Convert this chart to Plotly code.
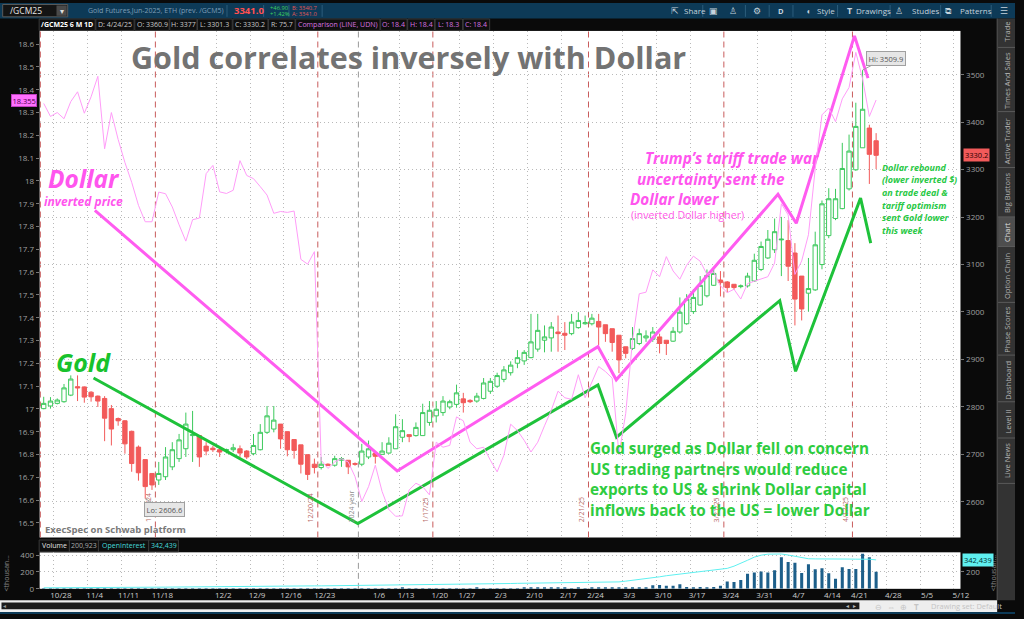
import plotly.graph_objects as go
import pandas as pd

W, H = 1024, 619
def X(px): return px / W
def Y(py): return 1 - py / H

FONT = "Open Sans"

# ---------------- data ----------------
holidays = ["2024-11-28", "2024-12-25", "2025-01-01", "2025-01-09",
            "2025-01-20", "2025-02-17", "2025-04-18"]
dates = [d.strftime("%Y-%m-%d") for d in pd.bdate_range("2024-10-24", "2025-04-24")
         if d.strftime("%Y-%m-%d") not in holidays]

opens = [2796.3, 2801.9, 2807.4, 2810.9, 2824.8, 2842.6, 2842.1, 2831.0, 2822.7, 2817.8,
         2796.3, 2775.5, 2770.7, 2748.5, 2715.2, 2688.9, 2659.7, 2645.9, 2652.8, 2673.6,
         2690.9, 2711.8, 2739.5, 2739.5, 2717.3, 2713.0, 2709.7, 2708.3, 2709.7, 2711.7,
         2706.9, 2701.3, 2709.7, 2746.4, 2753.3, 2763.7, 2747.8, 2731.2, 2720.0, 2699.3,
         2679.2, 2672.2, 2679.2, 2677.1, 2687.5, 2687.5, 2680.5, 2679.2, 2694.4, 2702.7,
         2700.0, 2702.7, 2711.7, 2736.0, 2741.5, 2739.5, 2739.5, 2767.2, 2781.1, 2788.0,
         2799.8, 2805.3, 2816.9, 2813.7, 2812.3, 2817.8, 2833.0, 2843.5, 2858.0, 2872.0,
         2892.0, 2896.9, 2903.8, 2921.8, 2940.5, 2945.4, 2957.8, 2955.1, 2954.4, 2967.0,
         2975.2, 2975.2, 2980.1, 2973.1, 2964.8, 2951.0, 2926.7, 2923.2, 2933.6, 2945.4,
         2942.6, 2947.5, 2940.5, 2938.5, 2957.9, 2975.2, 3000.9, 3014.7, 3034.1, 3056.3,
         3067.4, 3063.3, 3058.4, 3053.5, 3055.0, 3065.3, 3089.6, 3113.9, 3131.2, 3152.0,
         3150.6, 3124.3, 3075.7, 3039.7, 3046.6, 3100.0, 3161.0, 3197.1, 3217.9, 3259.5,
         3299.7, 3346.1, 3387.7, 3360.9]
highs = [2821.3, 2820.6, 2817.8, 2848.3, 2866.4, 2866.4, 2843.0, 2833.0, 2824.0, 2822.7,
         2804.0, 2777.6, 2772.0, 2749.9, 2718.7, 2688.9, 2659.7, 2684.0, 2715.2, 2725.6,
         2743.0, 2788.0, 2791.5, 2739.5, 2725.6, 2718.0, 2713.8, 2712.0, 2722.1, 2718.7,
         2709.0, 2742.9, 2763.7, 2801.9, 2801.9, 2763.7, 2747.8, 2731.2, 2720.0, 2699.3,
         2690.9, 2694.4, 2681.0, 2697.0, 2694.4, 2687.5, 2683.0, 2722.1, 2729.0, 2702.7,
         2725.6, 2736.0, 2784.5, 2774.1, 2741.5, 2767.2, 2806.7, 2812.3, 2812.3, 2822.7,
         2815.0, 2846.9, 2829.6, 2816.0, 2829.6, 2860.8, 2860.8, 2872.0, 2886.0, 2896.0,
         2919.7, 2919.7, 2996.0, 2996.0, 2971.7, 2978.7, 2992.5, 2978.7, 2996.0, 2999.5,
         2992.5, 2996.0, 2996.0, 2973.1, 2964.8, 2951.0, 2926.7, 2968.3, 2964.8, 2961.3,
         2968.3, 2954.4, 2940.5, 2968.3, 3030.7, 3037.6, 3048.0, 3075.7, 3089.6, 3089.6,
         3086.2, 3065.3, 3058.4, 3058.0, 3082.7, 3122.9, 3148.5, 3172.8, 3197.0, 3200.5,
         3193.6, 3145.1, 3075.7, 3113.9, 3169.3, 3235.0, 3260.9, 3259.5, 3356.5, 3373.9,
         3441.1, 3509.9, 3394.7, 3377.0]
lows = [2795.0, 2796.3, 2805.3, 2808.8, 2822.7, 2812.3, 2808.8, 2811.0, 2799.8, 2727.7,
        2718.7, 2760.3, 2701.4, 2663.2, 2644.5, 2606.6, 2625.0, 2635.5, 2645.9, 2666.7,
        2684.0, 2694.4, 2684.0, 2673.6, 2697.9, 2705.0, 2694.4, 2702.0, 2704.8, 2694.4,
        2690.0, 2697.9, 2708.3, 2742.9, 2746.4, 2711.7, 2695.8, 2690.9, 2659.7, 2645.9,
        2659.7, 2668.0, 2675.0, 2674.0, 2673.6, 2658.4, 2676.0, 2675.0, 2690.0, 2680.5,
        2700.0, 2701.3, 2711.7, 2725.6, 2725.6, 2737.4, 2739.5, 2760.3, 2767.2, 2781.1,
        2795.0, 2798.4, 2788.0, 2808.0, 2808.8, 2815.7, 2827.5, 2840.0, 2852.0, 2866.0,
        2881.6, 2888.5, 2902.4, 2916.3, 2915.0, 2916.3, 2916.3, 2919.8, 2951.0, 2964.8,
        2973.1, 2971.7, 2930.2, 2937.1, 2916.3, 2871.2, 2902.4, 2919.8, 2930.2, 2937.1,
        2937.1, 2912.8, 2909.3, 2937.1, 2954.4, 2973.1, 2996.0, 3013.3, 3030.7, 3055.0,
        3032.8, 3041.1, 3046.6, 3050.0, 3051.5, 3063.3, 3086.2, 3111.8, 3124.3, 3075.7,
        3065.3, 2971.7, 2982.2, 3000.9, 3044.5, 3090.0, 3155.5, 3193.6, 3216.5, 3256.0,
        3297.6, 3346.1, 3269.9, 3301.3]
closes = [2807.4, 2812.3, 2814.4, 2840.0, 2858.7, 2840.0, 2820.6, 2821.3, 2812.3, 2776.2,
          2753.3, 2770.7, 2722.1, 2680.6, 2661.1, 2632.0, 2635.5, 2659.7, 2694.4, 2709.7,
          2730.5, 2763.7, 2741.5, 2694.4, 2706.9, 2709.7, 2704.8, 2709.7, 2713.8, 2702.7,
          2694.4, 2718.7, 2746.4, 2781.1, 2772.1, 2732.5, 2709.7, 2708.3, 2679.2, 2657.7,
          2672.2, 2679.2, 2677.1, 2690.9, 2690.9, 2673.6, 2679.2, 2706.9, 2711.7, 2695.8,
          2706.9, 2723.5, 2758.2, 2749.9, 2737.4, 2756.8, 2788.0, 2792.9, 2795.0, 2812.3,
          2810.9, 2829.6, 2808.8, 2810.9, 2822.7, 2850.4, 2853.9, 2866.0, 2878.0, 2888.0,
          2903.8, 2914.9, 2937.0, 2961.3, 2947.5, 2968.3, 2954.4, 2951.0, 2978.7, 2982.2,
          2977.3, 2987.0, 2968.3, 2954.4, 2935.7, 2899.0, 2912.8, 2944.0, 2954.4, 2949.5,
          2957.8, 2933.6, 2933.6, 2959.3, 2999.5, 3027.2, 3030.7, 3056.3, 3077.1, 3081.3,
          3061.9, 3051.5, 3051.5, 3054.9, 3075.7, 3109.0, 3138.1, 3153.4, 3169.3, 3153.4,
          3096.5, 3027.2, 3006.4, 3049.4, 3141.6, 3228.0, 3238.7, 3238.7, 3302.5, 3339.2,
          3391.2, 3427.3, 3332.3, 3330.2]

# UDN comparison (inverted dollar)
udn = [18.34, 18.283, 18.30, 18.273, 18.348, 18.391, 18.297, 18.369, 18.459, 18.141,
       18.30, 18.182, 18.081, 17.994, 17.893, 17.821, 17.821, 17.951, 17.944, 17.886,
       17.808, 17.736, 17.83, 17.837, 18.032, 18.068, 17.952, 17.945, 17.959, 18.089,
       18.024, 18.01, 17.975, 17.938, 17.858, 17.866, 17.862, 17.868, 17.656, 17.635,
       17.69, 16.775, 16.739, 16.767, 16.782, 16.767, 16.703, 16.594, 16.659, 16.753,
       16.638, 16.559, 16.529, 16.531, 16.645, 16.674, 16.659, 16.623, 16.854, 16.832,
       16.84, 16.965, 16.948, 16.854, 16.825, 16.832, 16.775, 16.724, 16.797, 16.933,
       16.905, 16.862, 16.811, 16.854, 16.926, 16.994, 17.078, 17.049, 17.042, 17.15,
       17.049, 17.12, 17.186, 17.164, 17.135, 16.80, 16.98, 17.30, 17.505, 17.512,
       17.61, 17.58, 17.668, 17.605, 17.569, 17.63, 17.67, 17.648, 17.59, 17.60,
       17.54, 17.51, 17.525, 17.482, 17.55, 17.56, 17.57, 17.58, 17.64, 17.90,
       17.851, 17.59, 17.649, 17.764, 18.053, 18.29, 18.32, 18.26, 18.36, 18.41,
       18.564, 18.448, 18.283, 18.355]

volume = [2, 2, 3, 2, 3, 4, 3, 2, 3, 5,
          4, 3, 4, 5, 5, 6, 4, 3, 4, 3,
          3, 4, 3, 3, 2, 2, 3, 3, 2, 3,
          3, 4, 4, 5, 4, 4, 4, 3, 5, 4,
          4, 3, 2, 2, 2, 3, 3, 4, 4, 4,
          4, 5, 5, 10, 5, 4, 5, 5, 4, 4,
          4, 5, 5, 5, 10, 6, 6, 5, 5, 6,
          6, 7, 9, 15, 8, 7, 8, 7, 6, 7,
          6, 8, 9, 8, 9, 10, 10, 10, 12, 15,
          42, 46, 35, 35, 54, 23, 15, 23, 15, 23,
          35, 88, 81, 104, 177, 192, 204, 192, 219, 373,
          316, 308, 188, 292, 231, 242, 185, 119, 254, 235,
          235, 415, 373, 201]
open_interest = [12, 12, 13, 13, 13, 14, 14, 14, 15, 15,
                 16, 16, 17, 18, 18, 19, 19, 20, 20, 21,
                 22, 22, 23, 24, 24, 25, 25, 26, 27, 27,
                 28, 28, 29, 30, 30, 31, 32, 32, 33, 34,
                 35, 35, 36, 36, 37, 37, 38, 38, 39, 39,
                 40, 40, 41, 41, 42, 42, 43, 43, 44, 45,
                 46, 47, 49, 51, 53, 55, 57, 59, 61, 63,
                 65, 66, 67, 67, 68, 68, 69, 69, 70, 70,
                 71, 72, 73, 75, 78, 82, 91, 100, 110, 120,
                 129, 142, 155, 165, 175, 186, 194, 203, 212, 222,
                 232, 242, 268, 300, 338, 375, 398, 410, 413, 412,
                 400, 383, 366, 356, 354, 352, 353, 355, 354, 352,
                 351, 353, 350, 342.439]

# hand-drawn trend lines (time, price)
dollar_draw_t = ["2024-11-04 13:26", "2025-01-10 05:31", "2025-02-24 21:36", "2025-02-27 14:24",
                 "2025-04-02 12:00", "2025-04-07 04:48", "2025-04-17 19:12", "2025-04-22 19:12"]
dollar_draw_p = [3214, 2665, 2927, 2857, 3248, 3187, 3582, 3493]
gold_draw_t = ["2024-11-04 08:38", "2024-12-31 10:05", "2025-02-24 21:36", "2025-02-27 15:22",
               "2025-04-02 18:14", "2025-04-07 02:24", "2025-04-21 16:48", "2025-04-23 04:48"]
gold_draw_p = [2861, 2554, 2846, 2736, 3024, 2875, 3240, 3145]

expirations = ["2024-11-15", "2024-12-20", "2025-01-17", "2025-02-21", "2025-03-21", "2025-04-17"]
expiration_labels = ["11/15/24", "12/20/24", "1/17/25", "2/21/25", "3/21/25", "4/17/25"]

week_starts = ["2024-10-28", "2024-11-04", "2024-11-11", "2024-11-18", "2024-12-02", "2024-12-09",
               "2024-12-16", "2024-12-23", "2025-01-06", "2025-01-13", "2025-01-20", "2025-01-27",
               "2025-02-03", "2025-02-10", "2025-02-17", "2025-02-24", "2025-03-03", "2025-03-10",
               "2025-03-17", "2025-03-24", "2025-03-31", "2025-04-07", "2025-04-14", "2025-04-21",
               "2025-04-28", "2025-05-05", "2025-05-12"]
week_labels = ["10/28", "11/4", "11/11", "11/18", "12/2", "12/9", "12/16", "12/23", "1/6", "1/13",
               "1/20", "1/27", "2/3", "2/10", "2/17", "2/24", "3/3", "3/10", "3/17", "3/24",
               "3/31", "4/7", "4/14", "4/21", "4/28", "5/5", "5/12"]

gold_ticks = [2600, 2700, 2800, 2900, 3000, 3100, 3200, 3300, 3400, 3500]
udn_ticks = [16.5, 16.6, 16.7, 16.8, 16.9, 17.0, 17.1, 17.2, 17.3, 17.4, 17.5,
             17.6, 17.7, 17.8, 17.9, 18.0, 18.1, 18.2, 18.3, 18.4, 18.5, 18.6]
udn_ticktext = ["16.5", "16.6", "16.7", "16.8", "16.9", "17", "17.1", "17.2", "17.3", "17.4", "17.5",
                "17.6", "17.7", "17.8", "17.9", "18", "18.1", "18.2", "18.3", "18.4", "18.5", "18.6"]

# ---------------- helpers ----------------
hol = set(holidays)
def boundary_before(day):
    d = pd.Timestamp(day) - pd.Timedelta(days=1)
    while d.weekday() >= 5 or d.strftime("%Y-%m-%d") in hol:
        d -= pd.Timedelta(days=1)
    return (d + pd.Timedelta(hours=12)).strftime("%Y-%m-%d %H:%M")

def half_after(day):
    return (pd.Timestamp(day) + pd.Timedelta(hours=12)).strftime("%Y-%m-%d %H:%M")

week_bounds = [boundary_before(w) for w in week_starts]
exp_bounds = [half_after(e) for e in expirations]
year_bound = half_after("2024-12-31")
grid_vol = [b for b, l in zip(week_bounds, week_labels) if l != "1/6"]
grid_main = [b for b in grid_vol if b not in exp_bounds]

X_RANGE = ["2024-10-23 09:36", "2025-05-12 11:10"]
BREAKS = [dict(bounds=["sat", "mon"]), dict(values=holidays)]
GRID = "#b9b9b9"
GDASH = "1px,3px"
PINK = "#ff5cf0"
GREEN = "#1ec23a"

# ---------------- traces ----------------
fig = go.Figure()
fig.add_trace(go.Candlestick(
    x=dates, open=opens, high=highs, low=lows, close=closes, xaxis="x", yaxis="y",
    increasing=dict(line=dict(color="#3cc95c", width=1), fillcolor="#ffffff"),
    decreasing=dict(line=dict(color="#f25a5a", width=1), fillcolor="#f25a5a"),
    whiskerwidth=0, hoverinfo="skip"))
fig.add_trace(go.Scatter(x=gold_draw_t, y=gold_draw_p, mode="lines", xaxis="x", yaxis="y",
                         line=dict(color=GREEN, width=3), hoverinfo="skip"))
fig.add_trace(go.Scatter(x=dollar_draw_t, y=dollar_draw_p, mode="lines", xaxis="x", yaxis="y",
                         line=dict(color=PINK, width=3), hoverinfo="skip"))
fig.add_trace(go.Scatter(x=dates, y=udn, mode="lines", xaxis="x", yaxis="y2",
                         line=dict(color="#ff9cf8", width=1), hoverinfo="skip"))
fig.add_trace(go.Bar(x=dates, y=volume, xaxis="x2", yaxis="y3",
                     marker=dict(color="#1d5f8a", line=dict(width=0)), hoverinfo="skip"))
fig.add_trace(go.Scatter(x=dates, y=open_interest, mode="lines", xaxis="x2", yaxis="y4",
                         line=dict(color="#5ef0f0", width=1), hoverinfo="skip"))

# ---------------- shapes ----------------
shapes = []
def rect(x0, y0, x1, y1, fill, line=None, layer="below"):
    shapes.append(dict(type="rect", xref="paper", yref="paper", x0=X(x0), x1=X(x1), y0=Y(y1), y1=Y(y0),
                       fillcolor=fill, line=dict(width=1 if line else 0, color=line or fill), layer=layer))
def pline(x0, y0, x1, y1, color, width=1):
    shapes.append(dict(type="line", xref="paper", yref="paper", x0=X(x0), x1=X(x1), y0=Y(y0), y1=Y(y1),
                       line=dict(color=color, width=width), layer="above"))

# top toolbar
rect(0, 0, 1024, 15.7, "#0d3a57")
rect(2.7, 1.5, 68.3, 14, "#141414", "#5a5a5a")
rect(57, 2.5, 67.3, 13, "#4a4a4a")
for sx in [229, 266, 291.5, 325, 709, 752, 776, 800, 845, 898, 949, 1000]:
    pline(sx, 2, sx, 14, "#2c5d7c")
# right tab panel
rect(1006, 15.7, 1024, 605, "#333333")
rect(1007, 216.7, 1024, 246.7, "#4e4e4e")
pline(1006, 15.7, 1006, 605, "#555555")
for sy in [45, 110, 166.7, 216.7, 246.7, 303.3, 356.7, 404, 440.7, 486.7]:
    pline(1007, sy, 1024, sy, "#5a5a5a")
# bottom scroll row
rect(0, 605, 1006, 617, "#eeeeee")
rect(1.5, 607.3, 867, 614.3, "#1c1c1c")
rect(0, 617, 1024, 619, "#0d3a57")

# info bar / volume header boxes
segs = [(39.5, 96, "<b>/GCM25 6 M 1D</b>", "#ffffff"), (96.7, 135.3, "D: 4/24/25", "#c8c8c8"),
        (136, 170.7, "O: 3360.9", "#c8c8c8"), (171.3, 198.7, "H: 3377", "#c8c8c8"),
        (199.3, 234.3, "L: 3301.3", "#c8c8c8"), (235, 270.3, "C: 3330.2", "#c8c8c8"),
        (271, 297.7, "R: 75.7", "#c8c8c8"), (298.3, 383.3, "Comparison (LINE, UDN)", "#d873e0"),
        (384, 410.7, "O: 18.4", "#d873e0"), (411.3, 438.3, "H: 18.4", "#d873e0"),
        (439, 466.7, "L: 18.3", "#d873e0"), (467.3, 494, "C: 18.4", "#d873e0")]
vsegs = [(39.5, 70, "Volume", "#e2e2e2"), (70, 99.3, "200,923", "#a8a8a8"),
         (99.3, 150, "OpenInterest", "#45d9d9"), (150, 180, "342,439", "#45d9d9")]
for x0, x1, t, c in segs:
    rect(x0, 16.2, x1, 27.8, "#0e0e0e", "#3a3a3a")
for x0, x1, t, c in vsegs:
    rect(x0, 544, x1, 556, "#0e0e0e", "#3a3a3a")

# expiration lines, year line
main_y0, main_y1 = Y(541.5), Y(28.3)
vol_y0, vol_y1 = Y(593.5), Y(556.5)
for b in exp_bounds + ["2024-10-23 12:00"]:
    shapes.append(dict(type="line", xref="x", yref="paper", x0=b, x1=b, y0=main_y0, y1=main_y1,
                       line=dict(color="#c85c5c", width=1, dash="6px,4px"), layer="below"))
for (a, c) in [(main_y0, main_y1), (vol_y0, vol_y1)]:
    shapes.append(dict(type="line", xref="x", yref="paper", x0=year_bound, x1=year_bound, y0=a, y1=c,
                       line=dict(color="#9a9a9a", width=1, dash="6px,4px"), layer="below"))

# ---------------- annotations ----------------
ann = []
def T(x, y, text, size=9, color="#cccccc", xanchor="left", yanchor="middle", **kw):
    d = dict(xref="paper", yref="paper", x=X(x), y=Y(y), text=text, showarrow=False,
             xanchor=xanchor, yanchor=yanchor, font=dict(family=FONT, size=size, color=color))
    d.update(kw)
    ann.append(d)

# toolbar texts
T(8.3, 8, "/GCM25", 8.5, "#e6e6e6")
T(62.2, 8, "▾", 8, "#dddddd", xanchor="center")
T(87, 8, "Gold Futures,Jun-2025, ETH (prev. /GCM5)", 7, "#7f9fb8")
T(234, 8, "<b>3341.0</b>", 9.5, "#ff5050")
T(270, 4.6, "+46.90", 5.8, "#3fd060")
T(270, 10.8, "+1.42%", 5.8, "#3fd060")
T(293, 4.6, "B: 3340.7", 5.8, "#e05858")
T(293, 10.8, "A: 3341.0", 5.8, "#e05858")
T(675, 8, "⇱", 9, "#c5d3dd")
T(688, 8, "Share", 8, "#c5d3dd")
T(720, 8, "▣", 9, "#c5d3dd", xanchor="center")
T(740, 8, "♙", 9, "#c5d3dd", xanchor="center")
T(764, 8, "⚙", 9, "#c5d3dd", xanchor="center")
T(788, 8, "<b>D</b>", 7.5, "#c5d3dd", xanchor="center")
T(811, 8, "◖", 8, "#c5d3dd")
T(822, 8, "Style", 8, "#c5d3dd")
T(852, 8, "<b>T</b>", 9, "#c5d3dd")
T(862, 8, "Drawings", 8, "#c5d3dd")
T(907, 8, "♙", 9, "#c5d3dd", xanchor="center")
T(918, 8, "Studies", 8, "#c5d3dd")
T(957, 8, "⧉", 9, "#c5d3dd", xanchor="center")
T(966, 8, "Patterns", 8, "#c5d3dd")
T(1013, 8, "☰", 9, "#c5d3dd", xanchor="center")

for x0, x1, t, c in segs:
    T((x0 + x1) / 2, 22, t, 7, c, xanchor="center", borderpad=0)
for x0, x1, t, c in vsegs:
    T((x0 + x1) / 2, 550, t, 7, c, xanchor="center", borderpad=0)

# right tabs
tabs = [("Trade", 29), ("Times And Sales", 79), ("Active Trader", 140), ("Big Buttons", 192.5),
        ("Chart", 232), ("Option Chain", 276.5), ("Phase Scores", 331), ("Dashboard", 382.5),
        ("Level II", 424), ("Live News", 464)]
for t, yy in tabs:
    T(1016, yy, t, 7.5, "#e0e0e0" if t == "Chart" else "#b4b4b4", xanchor="center", textangle=-90)

# thousands labels
T(7, 578, "&lt;thousan...", 7, "#8a8a8a", xanchor="center", textangle=-90)
T(1002.5, 578, "&lt;thousan...", 7, "#8a8a8a", xanchor="center", textangle=-90)

# bottom row
T(5, 610.8, "◂", 6, "#9a9a9a", xanchor="center")
T(855, 610.8, "◂", 6, "#bbbbbb", xanchor="center")
T(862, 610.8, "▸", 6, "#bbbbbb", xanchor="center")
T(886, 611, "⊖", 8, "#c4c4c4", xanchor="center")
T(899, 611, "⇔", 8, "#c4c4c4", xanchor="center")
T(912, 611, "⊕", 8, "#c4c4c4", xanchor="center")
T(925, 611, "<b>T</b>", 8, "#c4c4c4", xanchor="center")
T(937, 611, "Drawing set: Default", 7.5, "#c4c4c4")

# chart texts
T(412.5, 55, "<b>Gold correlates inversely with Dollar</b>", 30.5, "#737373", xanchor="center")
T(46, 177, "<b><i>Dollar</i></b>", 24.5, "#ff55ee", height=22, valign="middle")
T(42, 201.5, "<b><i>inverted price</i></b>", 12, "#ff55ee")
T(54, 364, "<b><i>Gold</i></b>", 25, "#17c22c")
T(649, 157.3, "<b><i>Trump’s tariff trade war</i></b>", 15.3, "#ff55ee")
T(641, 178.5, "<b><i>uncertainty sent the</i></b>", 15.3, "#ff55ee")
T(633.5, 199, "<b><i>Dollar lower</i></b>", 15.3, "#ff55ee")
T(635, 215, "(inverted Dollar higher)", 10.5, "#ff5ce8")
for line, yy in [("Gold surged as Dollar fell on concern", 450.5),
                 ("US trading partners would reduce", 471.7),
                 ("exports to US &amp; shrink Dollar capital", 492.6),
                 ("inflows back to the US = lower Dollar", 513.3)]:
    T(593.5, yy, "<b>" + line + "</b>", 15.3, "#2ecc40")
for line, yy in [("Dollar rebound", 166.7), ("(lower inverted $)", 179.3), ("on trade deal &amp;", 192),
                 ("tariff optimism", 204.7), ("sent Gold lower", 217.4), ("this week", 230)]:
    T(888, yy, "<b><i>" + line + "</i></b>", 9, "#28c845")
T(43, 533, "<b>ExecSpec on Schwab platform</b>", 9.5, "#7a7a7a")

# expiration labels
for b, lab in zip(exp_bounds, expiration_labels):
    ann.append(dict(xref="x", yref="paper", x=b, y=Y(528), text=lab, showarrow=False, textangle=-90,
                    xanchor="right", yanchor="bottom", xshift=-0.5,
                    font=dict(family=FONT, size=7, color="#b86a66")))
ann.append(dict(xref="x", yref="paper", x=year_bound, y=Y(528), text="2024 year", showarrow=False,
                textangle=-90, xanchor="right", yanchor="bottom", xshift=-0.5,
                font=dict(family=FONT, size=7, color="#8c8c8c")))

# hi / lo tags
for i, val, lab, ax, ay in [(121, highs[121], "Hi: 3509.9", 23, -12), (15, lows[15], "Lo: 2606.6", 19, 11)]:
    ann.append(dict(xref="x", yref="y", x=dates[i], y=val, text=lab, showarrow=True, arrowhead=0,
                    arrowwidth=1, arrowcolor="#a0a0a0", ax=ax, ay=ay, standoff=0,
                    bgcolor="#e6e6e6", bordercolor="#a0a0a0", borderwidth=1, borderpad=1.5,
                    font=dict(family=FONT, size=7.5, color="#555555")))

# axis price tags
ann.append(dict(xref="paper", yref="y", x=X(972), y=closes[-1], text="3330.2", showarrow=False,
                xanchor="left", bgcolor="#f25a5a", borderpad=1,
                font=dict(family=FONT, size=7.5, color="#2a0000")))
ann.append(dict(xref="paper", yref="y2", x=X(37.5), y=udn[-1], text="18.355", showarrow=False,
                xanchor="right", bgcolor="#ff70ff", bordercolor="#c040c0", borderwidth=1, borderpad=0.5,
                font=dict(family=FONT, size=7.5, color="#4a004a")))
ann.append(dict(xref="paper", yref="y4", x=X(971), y=open_interest[-1], text="342,439", showarrow=False,
                xanchor="left", bgcolor="#5ff0f0", borderpad=1,
                font=dict(family=FONT, size=7.5, color="#003030")))

# ---------------- layout ----------------
xcommon = dict(type="date", range=X_RANGE, rangebreaks=BREAKS, domain=[X(40), X(969)],
               showline=False, zeroline=False, fixedrange=True, showgrid=False, ticks="")
tickf = dict(family=FONT, size=8, color="#a0a0a0")

fig.update_layout(
    width=W, height=H, autosize=False, margin=dict(l=0, r=0, t=0, b=0, pad=0),
    paper_bgcolor="#0a0a0a", plot_bgcolor="#ffffff", showlegend=False, hovermode=False,
    boxgap=0.2, boxgroupgap=0.2, bargap=0.55,
    xaxis=dict(**xcommon, anchor="y", showticklabels=False, rangeslider=dict(visible=False),
               minor=dict(tickmode="array", tickvals=grid_main, showgrid=True, gridcolor=GRID,
                          griddash=GDASH, gridwidth=1, ticks="")),
    xaxis2=dict(**xcommon, anchor="y3", tickmode="array", tickvals=week_bounds, ticktext=week_labels,
                ticklabelshift=7, tickfont=dict(family=FONT, size=8, color="#cccccc"),
                minor=dict(tickmode="array", tickvals=grid_vol, showgrid=True, gridcolor=GRID,
                           griddash=GDASH, gridwidth=1, ticks="")),
    yaxis=dict(domain=[Y(541.5), Y(28.3)], range=[2524.7, 3592.4], side="right", anchor="x",
               tickmode="array", tickvals=gold_ticks, ticktext=[str(v) for v in gold_ticks],
               showgrid=True, gridcolor=GRID, griddash=GDASH, zeroline=False, fixedrange=True,
               ticks="outside", ticklen=3, tickcolor="#777777", tickfont=tickf),
    yaxis2=dict(overlaying="y", side="left", anchor="x", range=[16.436, 18.658],
                tickmode="array", tickvals=udn_ticks, ticktext=udn_ticktext, showgrid=False,
                zeroline=False, fixedrange=True, ticks="outside", ticklen=3, tickcolor="#777777",
                tickfont=tickf),
    yaxis3=dict(domain=[Y(593.5), Y(556.5)], range=[0, 432], anchor="x2", side="left",
                tickmode="array", tickvals=[0, 200, 400], ticktext=["0", "200", "400"],
                showgrid=True, gridcolor=GRID, griddash=GDASH, zeroline=False, fixedrange=True,
                ticks="outside", ticklen=3, tickcolor="#777777", tickfont=tickf),
    yaxis4=dict(overlaying="y3", anchor="x2", side="right", range=[0, 432],
                tickmode="array", tickvals=[200], ticktext=["200"], showgrid=False,
                zeroline=False, fixedrange=True, ticks="outside", ticklen=3, tickcolor="#777777",
                tickfont=tickf),
    shapes=shapes, annotations=ann,
)

fig.write_html("out.html", config={"displayModeBar": False},
               post_script="document.body.style.margin='0px';document.body.style.overflow='hidden';")
